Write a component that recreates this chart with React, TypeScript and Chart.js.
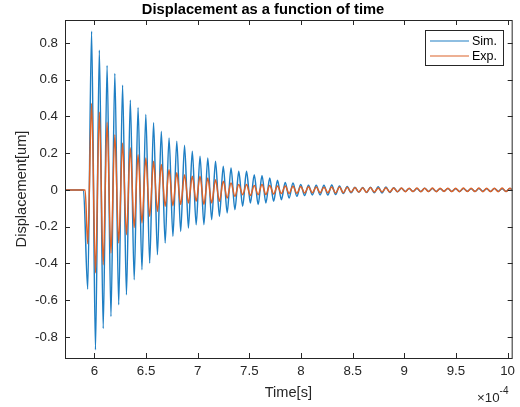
import React, { useEffect, useRef } from "react";
import { Chart, registerables } from "chart.js";

Chart.register(...registerables);

// Axis limits (time in units of 1e-4 s)
const X_MIN = 5.715;
const X_MAX = 10.04;
const Y_MIN = -0.915;
const Y_MAX = 0.925;

const xTickValues = [6, 6.5, 7, 7.5, 8, 8.5, 9, 9.5, 10];
const yTickValues = [-0.8, -0.6, -0.4, -0.2, 0, 0.2, 0.4, 0.6, 0.8];

const titleText = "Displacement as a function of time";
const xLabelText = "Time[s]";
const yLabelText = "Displacement[um]";
const seriesNames = ["Sim.", "Exp."];

// Onset of each response (value is 0 before it)
const simOnset = 5.894;
const expOnset = 5.91;

// Times of successive peaks/troughs (x 1e-4 s)
const extremeTimes = [
  5.935, 5.9725, 6.01, 6.0475, 6.085, 6.1225, 6.16, 6.1975, 6.235, 6.2725,
  6.31, 6.3475, 6.385, 6.4225, 6.46, 6.4975, 6.535, 6.5725, 6.61, 6.6475,
  6.685, 6.7225, 6.76, 6.7975, 6.835, 6.8725, 6.91, 6.9475, 6.985, 7.0225,
  7.06, 7.0975, 7.135, 7.1725, 7.21, 7.2475, 7.285, 7.3225, 7.36, 7.3975,
  7.435, 7.4725, 7.51, 7.5475, 7.585, 7.6225, 7.66, 7.6975, 7.735, 7.7725,
  7.81, 7.8475, 7.885, 7.9225, 7.96, 7.9975, 8.035, 8.0725, 8.11, 8.1475,
  8.185, 8.2225, 8.26, 8.2975, 8.335, 8.3725, 8.41, 8.4475, 8.485, 8.5225,
  8.56, 8.5975, 8.635, 8.6725, 8.71, 8.7475, 8.785, 8.8225, 8.86, 8.8975,
  8.935, 8.9725, 9.01, 9.0475, 9.085, 9.1225, 9.16, 9.1975, 9.235, 9.2725,
  9.31, 9.3475, 9.385, 9.4225, 9.46, 9.4975, 9.535, 9.5725, 9.61, 9.6475,
  9.685, 9.7225, 9.76, 9.7975, 9.835, 9.8725, 9.91, 9.9475, 9.985, 10.0225,
  10.06,
];

// Sim. displacement at those extremes [um]
const simValues = [
  -0.54, 0.864, -0.87, 0.761, -0.755, 0.677, -0.689, 0.634, -0.625, 0.57,
  -0.571, 0.488, -0.489, 0.447, -0.434, 0.41, -0.398, 0.365, -0.353, 0.319,
  -0.289, 0.283, -0.253, 0.265, -0.226, 0.243, -0.207, 0.21, -0.19, 0.183,
  -0.189, 0.174, -0.162, 0.156, -0.144, 0.129, -0.125, 0.12, -0.108, 0.101,
  -0.089, 0.101, -0.071, 0.083, -0.08, 0.078, -0.071, 0.065, -0.062, 0.052,
  -0.053, 0.041, -0.044, 0.038, -0.035, 0.029, -0.031, 0.026, -0.027, 0.025,
  -0.027, 0.026, -0.028, 0.027, -0.025, 0.022, -0.02, 0.018, -0.016, 0.014,
  -0.013, 0.013, -0.014, 0.015, -0.016, 0.017, -0.017, 0.016, -0.014, 0.012,
  -0.01, 0.009, -0.008, 0.008, -0.008, 0.008, -0.009, 0.009, -0.008, 0.008,
  -0.008, 0.007, -0.007, 0.008, -0.008, 0.007, -0.008, 0.008, -0.007, 0.007,
  -0.008, 0.008, -0.007, 0.007, -0.008, 0.008, -0.007, 0.007, -0.008, 0.008,
  -0.007,
];

// Exp. displacement at those extremes [um]
const expValues = [
  -0.293, 0.47, -0.452, 0.423, -0.407, 0.368, -0.343, 0.301, -0.289, 0.256,
  -0.244, 0.229, -0.205, 0.192, -0.18, 0.174, -0.144, 0.156, -0.117, 0.138,
  -0.089, 0.11, -0.086, 0.093, -0.08, 0.083, -0.071, 0.074, -0.062, 0.074,
  -0.08, 0.065, -0.071, 0.056, -0.062, 0.047, -0.044, 0.038, -0.035, 0.029,
  -0.026, 0.029, -0.03, 0.024, -0.026, 0.029, -0.025, 0.024, -0.022, 0.022,
  -0.02, 0.021, -0.019, 0.02, -0.018, 0.018, -0.017, 0.017, -0.016, 0.016,
  -0.016, 0.015, -0.015, 0.016, -0.017, 0.016, -0.015, 0.014, -0.013, 0.013,
  -0.012, 0.012, -0.013, 0.013, -0.012, 0.011, -0.011, 0.012, -0.012, 0.011,
  -0.01, 0.01, -0.01, 0.009, -0.009, 0.01, -0.01, 0.009, -0.009, 0.01,
  -0.01, 0.009, -0.008, 0.009, -0.009, 0.009, -0.01, 0.01, -0.009, 0.009,
  -0.009, 0.01, -0.01, 0.009, -0.009, 0.009, -0.01, 0.01, -0.009, 0.009,
  -0.009,
];

const SIM_COLOR = "#1f7fc4";
const EXP_COLOR = "#dc6228";
const AXIS_COLOR = "#262626";
const FONT = '"Liberation Sans", Arial, Helvetica, sans-serif';

const decorPlugin = {
  id: "matlabDecor",
  afterDraw(chart: any) {
    const { ctx, chartArea: a, scales } = chart;
    const xs = scales.x;
    const ys = scales.y;
    ctx.save();
    ctx.strokeStyle = AXIS_COLOR;
    ctx.lineWidth = 1;
    // box
    ctx.strokeRect(a.left + 0.5, a.top + 0.5, a.right - a.left, a.bottom - a.top);
    // inward ticks on all sides
    const tl = 5;
    ctx.beginPath();
    xTickValues.forEach((v) => {
      const px = Math.round(xs.getPixelForValue(v)) + 0.5;
      ctx.moveTo(px, a.bottom);
      ctx.lineTo(px, a.bottom - tl);
      ctx.moveTo(px, a.top);
      ctx.lineTo(px, a.top + tl);
    });
    yTickValues.forEach((v) => {
      const py = Math.round(ys.getPixelForValue(v)) + 0.5;
      ctx.moveTo(a.left, py);
      ctx.lineTo(a.left + tl, py);
      ctx.moveTo(a.right + 1, py);
      ctx.lineTo(a.right + 1 - tl, py);
    });
    ctx.stroke();

    // title
    ctx.fillStyle = "#000";
    ctx.font = `bold 14.7px ${FONT}`;
    ctx.textAlign = "center";
    ctx.textBaseline = "middle";
    ctx.fillText(titleText, 263, 10);

    // x label
    const cx = (a.left + a.right) / 2;
    ctx.fillStyle = AXIS_COLOR;
    ctx.font = `14.6px ${FONT}`;
    ctx.fillText(xLabelText, cx, 393);

    // exponent
    ctx.font = `13.3px ${FONT}`;
    ctx.textAlign = "left";
    ctx.fillText("\u00d710", 477, 398);
    const w = ctx.measureText("\u00d710").width;
    ctx.font = `10px ${FONT}`;
    ctx.fillText("-4", 477 + w, 391);

    // y label
    ctx.save();
    ctx.translate(22, (a.top + a.bottom) / 2);
    ctx.rotate(-Math.PI / 2);
    ctx.font = `14.6px ${FONT}`;
    ctx.textAlign = "center";
    ctx.textBaseline = "middle";
    ctx.fillText(yLabelText, 0, 0);
    ctx.restore();

    // legend
    const lx = 425.5, ly = 30.5, lw = 78, lh = 35;
    ctx.fillStyle = "#fff";
    ctx.fillRect(lx, ly, lw, lh);
    ctx.strokeStyle = AXIS_COLOR;
    ctx.lineWidth = 1;
    ctx.strokeRect(lx, ly, lw, lh);
    const rows = [
      { name: seriesNames[0], color: SIM_COLOR, y: 41 },
      { name: seriesNames[1], color: EXP_COLOR, y: 56 },
    ];
    rows.forEach((r) => {
      ctx.strokeStyle = r.color;
      ctx.lineWidth = 1.2;
      ctx.beginPath();
      ctx.moveTo(430, r.y);
      ctx.lineTo(469, r.y);
      ctx.stroke();
      ctx.fillStyle = "#000";
      ctx.font = `12.5px ${FONT}`;
      ctx.textAlign = "left";
      ctx.textBaseline = "middle";
      ctx.fillText(r.name, 472, r.y + 0.5);
    });
    ctx.restore();
  },
};

export default function App() {
  const ref = useRef<HTMLCanvasElement>(null);

  useEffect(() => {
    const canvas = ref.current;
    if (!canvas) return;
    const simData = [
      { x: X_MIN, y: 0 },
      { x: simOnset, y: 0 },
      ...extremeTimes.map((t, i) => ({ x: t, y: simValues[i] })),
    ];
    const expData = [
      { x: X_MIN, y: 0 },
      { x: expOnset, y: 0 },
      ...extremeTimes.map((t, i) => ({ x: t, y: expValues[i] })),
    ];
    const chart = new Chart(canvas, {
      type: "line",
      data: {
        datasets: [
          {
            label: seriesNames[0],
            data: simData,
            borderColor: SIM_COLOR,
            borderWidth: 1.5,
            pointRadius: 0,
            fill: false,
            cubicInterpolationMode: "monotone",
            order: 1,
          },
          {
            label: seriesNames[1],
            data: expData,
            borderColor: EXP_COLOR,
            borderWidth: 1.5,
            pointRadius: 0,
            fill: false,
            cubicInterpolationMode: "monotone",
            order: 0,
          },
        ],
      },
      options: {
        responsive: false,
        animation: false,
        devicePixelRatio: 1,
        events: [],
        layout: { padding: { top: 20, right: 7, left: 0, bottom: 0 } },
        plugins: {
          legend: { display: false },
          tooltip: { enabled: false },
          title: { display: false },
        },
        scales: {
          x: {
            type: "linear",
            min: X_MIN,
            max: X_MAX,
            grid: { display: false, drawTicks: false },
            border: { display: false },
            afterBuildTicks: (scale: any) => {
              scale.ticks = xTickValues.map((value) => ({ value }));
            },
            afterFit: (scale: any) => {
              scale.height = 49;
            },
            ticks: {
              autoSkip: false,
              maxRotation: 0,
              padding: 5,
              color: AXIS_COLOR,
              font: { family: FONT, size: 13.3 },
              callback: (v: any) => String(Number(Number(v).toFixed(1))),
            },
          },
          y: {
            type: "linear",
            min: Y_MIN,
            max: Y_MAX,
            grid: { display: false, drawTicks: false },
            border: { display: false },
            afterBuildTicks: (scale: any) => {
              scale.ticks = yTickValues.map((value) => ({ value }));
            },
            afterFit: (scale: any) => {
              scale.width = 65;
            },
            ticks: {
              autoSkip: false,
              padding: 7,
              color: AXIS_COLOR,
              font: { family: FONT, size: 13.3 },
              callback: (v: any) => String(Number(Number(v).toFixed(1))),
            },
          },
        },
      },
      plugins: [decorPlugin],
    } as any);
    return () => chart.destroy();
  }, []);

  return (
    <div
      style={{
        position: "fixed",
        left: 0,
        top: 0,
        width: 520,
        height: 407,
        background: "#fff",
      }}
    >
      <canvas
        ref={ref}
        width={520}
        height={407}
        style={{ display: "block", width: 520, height: 407 }}
      />
    </div>
  );
}
